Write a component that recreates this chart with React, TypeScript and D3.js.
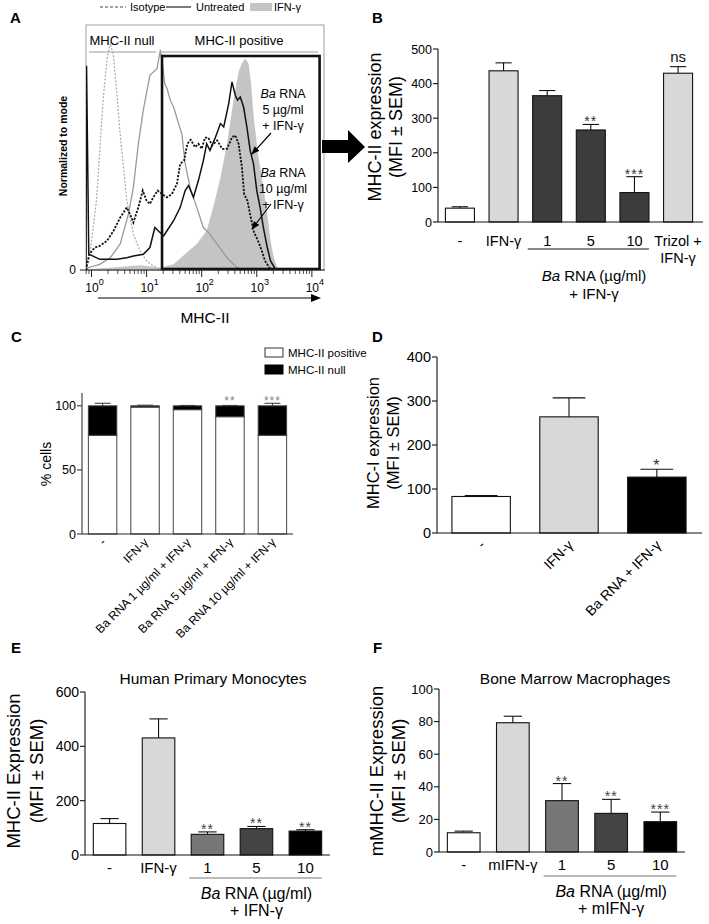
import * as d3 from 'd3';

const FONT = '"Liberation Sans", Arial, Helvetica, sans-serif';

// Panel A: flow histograms, x = log10(MHC-II), y = % of mode
const histIsotype: [number, number][] = [[-0.1, 0], [-0.03, 6.9], [0.09, 30.5], [0.15, 52.7], [0.21, 74.8], [0.28, 92.5], [0.34, 100], [0.4, 94], [0.46, 77.7], [0.52, 60], [0.58, 45.3], [0.64, 30.5], [0.7, 23.1], [0.76, 15.8], [0.88, 8.4], [1.0, 4], [1.12, 1.8], [1.25, 0.3], [1.4, 0]];
const histUntreated: [number, number][] = [[-0.1, 0], [-0.06, 1], [0.15, 2.5], [0.34, 5.4], [0.52, 11.4], [0.67, 24.6], [0.76, 36.4], [0.85, 55.6], [0.94, 70.4], [1.06, 85.8], [1.19, 88.8], [1.25, 97], [1.29, 90], [1.33, 82], [1.37, 80], [1.43, 74.8], [1.49, 71.8], [1.58, 64.5], [1.64, 60], [1.7, 46.8], [1.79, 36.4], [1.91, 27.6], [2.03, 18.7], [2.15, 15.8], [2.28, 11.4], [2.46, 5.4], [2.64, 1], [2.82, 0]];
const histBa5: [number, number][] = [[-0.1, 0], [-0.09, 90], [-0.05, 7], [0.15, 4.7], [0.46, 4.7], [0.64, 5.4], [0.76, 6.2], [0.94, 6.9], [1.06, 9.9], [1.15, 18.7], [1.21, 17.3], [1.31, 15], [1.37, 17.3], [1.49, 21.7], [1.61, 27.6], [1.7, 35], [1.76, 37.2], [1.85, 32], [1.94, 39.4], [2.03, 48.2], [2.09, 55.6], [2.15, 52.7], [2.25, 58.5], [2.34, 64.5], [2.4, 63], [2.49, 73.3], [2.55, 82.9], [2.61, 77], [2.65, 74.8], [2.7, 76.2], [2.76, 71.8], [2.82, 63], [2.88, 52.7], [2.94, 46.8], [3.0, 35], [3.06, 27.6], [3.12, 18.7], [3.19, 9.9], [3.25, 4], [3.34, 0.3], [3.43, 0]];
const histBa10: [number, number][] = [[-0.1, 0], [-0.04, 7], [0.06, 9.9], [0.15, 10.6], [0.28, 12.8], [0.4, 17.3], [0.52, 23.1], [0.64, 27.6], [0.7, 24.6], [0.76, 20.9], [0.85, 27.6], [0.93, 35], [1.0, 30.5], [1.06, 29.1], [1.12, 32], [1.2, 35], [1.28, 33.5], [1.37, 32], [1.46, 33.5], [1.55, 37.9], [1.61, 46.8], [1.68, 48.2], [1.74, 55.6], [1.8, 57.4], [1.88, 54.1], [1.94, 55.6], [2.0, 53.4], [2.06, 58.3], [2.12, 58.3], [2.19, 54.9], [2.28, 57.1], [2.37, 53.4], [2.46, 53.4], [2.55, 58.5], [2.61, 59.3], [2.67, 55.6], [2.73, 45.3], [2.77, 33.5], [2.83, 30.5], [2.89, 23.1], [2.95, 16.5], [3.01, 13.6], [3.08, 9.2], [3.15, 4], [3.25, 0.3], [3.31, 0]];
const histIfn: [number, number][] = [[-0.1, 0.3], [0.34, 1], [0.88, 2.1], [1.25, 1], [1.49, 2.5], [1.73, 7.7], [1.91, 11.4], [2.09, 17.3], [2.21, 27.6], [2.34, 40.8], [2.46, 55.6], [2.55, 70.4], [2.61, 79.2], [2.67, 87.3], [2.73, 91], [2.79, 93.2], [2.85, 91], [2.89, 83.6], [2.95, 65.9], [3.03, 49.7], [3.12, 36.4], [3.19, 24.6], [3.25, 12.8], [3.31, 5.4], [3.37, 1], [3.46, 0]];
const aDecades = [0, 1, 2, 3, 4];

// Panel B
const bCats = ['-', 'IFN-γ', '1', '5', '10', 'Trizol + IFN-γ'];
const bValues = [40, 437, 365, 266, 85, 430];
const bErrors = [4, 23, 15, 16, 46, 19];
const bStars = ['', '', '', '**', '***', 'ns'];
const bTicks = [0, 100, 200, 300, 400, 500];

// Panel C
const cCats = ['-', 'IFN-γ', 'Ba RNA 1 µg/ml + IFN-γ', 'Ba RNA 5 µg/ml + IFN-γ', 'Ba RNA 10 µg/ml + IFN-γ'];
const cPositive = [77, 99, 97, 91.5, 77];
const cNull = [23, 1, 3, 8.5, 23];
const cErrors = [2, 0.5, 0.3, 0.3, 2];
const cStars = ['', '', '', '**', '***'];
const cTicks = [0, 50, 100];

// Panel D
const dCats = ['-', 'IFN-γ', 'Ba RNA + IFN-γ'];
const dValues = [83, 264, 127];
const dErrors = [2, 43, 18];
const dStars = ['', '', '*'];
const dTicks = [0, 100, 200, 300, 400];

// Panel E
const eCats = ['-', 'IFN-γ', '1', '5', '10'];
const eValues = [116, 431, 76, 97, 88];
const eErrors = [18, 70, 9, 8, 5];
const eStars = ['', '', '**', '**', '**'];
const eTicks = [0, 200, 400, 600];

// Panel F
const fCats = ['-', 'mIFN-γ', '1', '5', '10'];
const fValues = [11.8, 79.3, 31.5, 23.7, 18.6];
const fErrors = [1, 4, 10.5, 8.6, 5.9];
const fStars = ['', '', '**', '**', '***'];
const fTicks = [0, 20, 40, 60, 80, 100];

type BarProps = {
  cats: string[]; values: number[]; errors: number[]; stars: string[]; fills: string[];
  left: number; right: number; axisEnd: number; bottom: number; top: number; max: number;
  ticks: number[]; tickFont: number; starFont: number; starColor: string;
  showLabels?: boolean; labelFont?: number; labelY?: number;
};

function Bars(p: BarProps) {
  const x = d3.scaleBand<string>().domain(p.cats).range([p.left, p.right]).paddingInner(0.335).paddingOuter(0.17);
  const y = d3.scaleLinear().domain([0, p.max]).range([p.bottom, p.top]);
  const bw = x.bandwidth();
  return (
    <g>
      {p.cats.map((c, i) => {
        const x0 = x(c)!;
        const cx = x0 + bw / 2;
        const yv = y(p.values[i]);
        const ye = y(p.values[i] + p.errors[i]);
        const cap = bw * 0.28;
        const s = p.stars[i];
        return (
          <g key={c}>
            <line x1={cx} x2={cx} y1={yv} y2={ye} stroke="#111" strokeWidth={1.1} />
            <line x1={cx - cap} x2={cx + cap} y1={ye} y2={ye} stroke="#111" strokeWidth={1.1} />
            <rect x={x0} y={yv} width={bw} height={p.bottom - yv} fill={p.fills[i]} stroke="#111" strokeWidth={1.1} />
            {s && (
              <text x={cx} y={s === 'ns' ? ye - 5 : ye + 2} textAnchor="middle" fontSize={s === 'ns' ? p.starFont + 1 : p.starFont}
                fill={s === 'ns' ? '#111' : p.starColor} letterSpacing={s === 'ns' ? 0 : 1}>{s}</text>
            )}
            {p.showLabels && (
              <text x={cx} y={p.labelY} textAnchor="middle" fontSize={p.labelFont}>{c}</text>
            )}
          </g>
        );
      })}
      <line x1={p.left} x2={p.axisEnd} y1={p.bottom} y2={p.bottom} stroke="#111" strokeWidth={1.1} />
      <line x1={p.left} x2={p.left} y1={p.bottom} y2={y(p.max)} stroke="#111" strokeWidth={1.1} />
      {p.ticks.map(t => (
        <g key={t}>
          <line x1={p.left - 5} x2={p.left} y1={y(t)} y2={y(t)} stroke="#111" strokeWidth={1.1} />
          <text x={p.left - 6} y={y(t)} dy="0.36em" textAnchor="end" fontSize={p.tickFont}>{t}</text>
        </g>
      ))}
    </g>
  );
}

function YLabel({ x, y, size, lines }: { x: number[]; y: number; size: number; lines: string[] }) {
  return (
    <g>
      {lines.map((l, i) => (
        <text key={i} transform={`translate(${x[i]},${y}) rotate(-90)`} dy="0.35em" textAnchor="middle" fontSize={size}>{l}</text>
      ))}
    </g>
  );
}

function PanelA() {
  const xA = d3.scaleLinear().domain([-0.1, 4.22]).range([86, 324]);
  const yA = d3.scaleLinear().domain([0, 100]).range([270, 43]);
  const line = d3.line<[number, number]>().x(d => xA(d[0])).y(d => yA(d[1]));
  const area = d3.area<[number, number]>().x(d => xA(d[0])).y0(yA(0)).y1(d => yA(d[1]));
  const minor: number[] = [];
  for (let d = -1; d <= 4; d++) for (let k = 2; k <= 9; k++) {
    const v = d + Math.log10(k);
    if (v > -0.1 && v < 4.22) minor.push(v);
  }
  return (
    <g>
      <defs>
        <clipPath id="clipA"><rect x={86} y={25} width={238} height={245} /></clipPath>
        <marker id="ah" viewBox="0 0 10 10" refX={9} refY={5} markerWidth={7} markerHeight={7} orient="auto">
          <path d="M0,1 L10,5 L0,9 z" fill="#000" />
        </marker>
      </defs>
      <text x={10} y={23} fontSize={15} fontWeight="bold">A</text>
      {/* legend */}
      <line x1={100} x2={126} y1={7} y2={7} stroke="#444" strokeDasharray="3,2" />
      <text x={130} y={10.5} fontSize={11}>Isotype</text>
      <line x1={166} x2={191} y1={7} y2={7} stroke="#222" strokeWidth={1.2} />
      <text x={196} y={10.5} fontSize={11}>Untreated</text>
      <rect x={250} y={3} width={22} height={8} fill="#c4c4c4" />
      <text x={274} y={10.5} fontSize={11}>IFN-γ</text>

      <rect x={86} y={25} width={238} height={245} fill="none" stroke="#888" strokeWidth={0.8} />
      <g clipPath="url(#clipA)">
        <path d={area(histIfn)!} fill="#c4c4c4" />
        <path d={line(histIsotype)!} fill="none" stroke="#a8a8a8" strokeWidth={1.2} strokeDasharray="2,1.6" />
        <path d={line(histUntreated)!} fill="none" stroke="#999" strokeWidth={1.3} />
        <path d={line(histBa10)!} fill="none" stroke="#111" strokeWidth={1.8} strokeDasharray="2.2,1.4" />
        <path d={line(histBa5)!} fill="none" stroke="#111" strokeWidth={1.5} />
      </g>
      <rect x={xA(1.28)} y={56} width={xA(4.14) - xA(1.28)} height={213} fill="none" stroke="#111" strokeWidth={2.6} />
      <line x1={89} x2={156} y1={52} y2={52} stroke="#999" strokeWidth={1.2} />
      <line x1={162} x2={318} y1={52} y2={52} stroke="#999" strokeWidth={1.2} />
      <text x={122} y={45} textAnchor="middle" fontSize={13}>MHC-II null</text>
      <text x={239} y={45} textAnchor="middle" fontSize={13}>MHC-II positive</text>

      <text fontSize={12.5} textAnchor="middle">
        <tspan x={283} y={98}><tspan fontStyle="italic">Ba</tspan> RNA</tspan>
        <tspan x={283} y={114}>5 µg/ml</tspan>
        <tspan x={283} y={130}>+ IFN-γ</tspan>
        <tspan x={283} y={177}><tspan fontStyle="italic">Ba</tspan> RNA</tspan>
        <tspan x={283} y={193}>10 µg/ml</tspan>
        <tspan x={283} y={209}>+ IFN-γ</tspan>
      </text>
      <line x1={271} y1={133} x2={252} y2={154} stroke="#000" strokeWidth={1.2} markerEnd="url(#ah)" />
      <line x1={271} y1={204} x2={252} y2={229} stroke="#000" strokeWidth={1.2} markerEnd="url(#ah)" />

      {/* axes */}
      <line x1={80} x2={325} y1={270} y2={270} stroke="#222" strokeWidth={1} />
      <text x={76} y={270} dy="0.3em" textAnchor="end" fontSize={12}>0</text>
      {aDecades.map(d => (
        <g key={d}>
          <line x1={xA(d)} x2={xA(d)} y1={270} y2={277} stroke="#222" />
          <text x={xA(d) + 3} y={292} textAnchor="middle" fontSize={12}>10<tspan dy={-7} fontSize={9}>{d}</tspan></text>
        </g>
      ))}
      {minor.map((v, i) => (
        <line key={i} x1={xA(v)} x2={xA(v)} y1={270} y2={274} stroke="#222" strokeWidth={0.8} />
      ))}
      <line x1={98} x2={312} y1={298} y2={298} stroke="#000" strokeWidth={1.2} />
      <path d="M311,294 L321,298 L311,302 z" fill="#000" />
      <text x={205} y={323} textAnchor="middle" fontSize={15.5}>MHC-II</text>
      <text transform="translate(63,146) rotate(-90)" dy="0.35em" textAnchor="middle" fontSize={10.5} fontWeight="bold">Normalized to mode</text>

      {/* link arrow A -> B */}
      <path d="M322,140 L348,140 L348,130 L365,147 L348,163 L348,153 L322,153 z" fill="#000" />
    </g>
  );
}

function PanelB() {
  const fills = ['#fff', '#d8d8d8', '#3c3c3c', '#3c3c3c', '#3c3c3c', '#d8d8d8'];
  const x = d3.scaleBand<string>().domain(bCats).range([438, 700]).paddingInner(0.335).paddingOuter(0.17);
  const cx = (c: string) => x(c)! + x.bandwidth() / 2;
  return (
    <g>
      <text x={372} y={23} fontSize={15} fontWeight="bold">B</text>
      <Bars cats={bCats} values={bValues} errors={bErrors} stars={bStars} fills={fills}
        left={438} right={700} axisEnd={703} bottom={222} top={49} max={500}
        ticks={bTicks} tickFont={12.5} starFont={14} starColor="#333" />
      {bCats.slice(0, 5).map(c => (
        <text key={c} x={cx(c)} y={246} textAnchor="middle" fontSize={14.5}>{c}</text>
      ))}
      <text x={cx(bCats[5])} y={246} textAnchor="middle" fontSize={14.5}>Trizol +</text>
      <text x={cx(bCats[5])} y={263} textAnchor="middle" fontSize={14.5}>IFN-γ</text>
      <line x1={x('1')! - 5} x2={x('10')! + x.bandwidth()} y1={249} y2={249} stroke="#111" />
      <text x={594} y={281} textAnchor="middle" fontSize={15}><tspan fontStyle="italic">Ba</tspan> RNA (µg/ml)</text>
      <text x={594} y={299} textAnchor="middle" fontSize={15}>+ IFN-γ</text>
      <YLabel x={[375, 396]} y={127} size={18} lines={['MHC-II expression', '(MFI ± SEM)']} />
    </g>
  );
}

function PanelC() {
  const x = d3.scaleBand<string>().domain(cCats).range([82, 293]).paddingInner(0.33).paddingOuter(0.15);
  const y = d3.scaleLinear().domain([0, 110]).range([534, 393]);
  const bw = x.bandwidth();
  return (
    <g>
      <text x={11} y={342} fontSize={15} fontWeight="bold">C</text>
      <rect x={265} y={348} width={18} height={9} fill="#fff" stroke="#333" />
      <text x={288} y={357} fontSize={11.5}>MHC-II positive</text>
      <rect x={265} y={365} width={18} height={9} fill="#000" stroke="#000" />
      <text x={288} y={374} fontSize={11.5}>MHC-II null</text>
      {cCats.map((c, i) => {
        const x0 = x(c)!;
        const cxp = x0 + bw / 2;
        const total = cPositive[i] + cNull[i];
        const ye = y(total + cErrors[i]);
        return (
          <g key={c}>
            <line x1={cxp} x2={cxp} y1={y(total)} y2={ye} stroke="#333" />
            <line x1={cxp - bw * 0.28} x2={cxp + bw * 0.28} y1={ye} y2={ye} stroke="#333" />
            <rect x={x0} y={y(cPositive[i])} width={bw} height={y(0) - y(cPositive[i])} fill="#fff" stroke="#444" />
            <rect x={x0} y={y(total)} width={bw} height={y(cPositive[i]) - y(total)} fill="#000" stroke="#444" />
            {cStars[i] && <text x={cxp} y={405} textAnchor="middle" fontSize={12} fill="#888" letterSpacing={1}>{cStars[i]}</text>}
            <text transform={`translate(${cxp + 4},543) rotate(-45)`} textAnchor="end" fontSize={12}>{c}</text>
          </g>
        );
      })}
      <line x1={82} x2={293} y1={534} y2={534} stroke="#222" />
      <line x1={82} x2={82} y1={534} y2={393} stroke="#222" />
      {cTicks.map(t => (
        <g key={t}>
          <line x1={77} x2={82} y1={y(t)} y2={y(t)} stroke="#222" />
          <text x={76} y={y(t)} dy="0.36em" textAnchor="end" fontSize={12.5}>{t}</text>
        </g>
      ))}
      <YLabel x={[46]} y={464} size={14} lines={['% cells']} />
    </g>
  );
}

function PanelD() {
  const fills = ['#fff', '#d8d8d8', '#000'];
  const x = d3.scaleBand<string>().domain(dCats).range([437, 701]).paddingInner(0.335).paddingOuter(0.17);
  return (
    <g>
      <text x={372} y={342} fontSize={15} fontWeight="bold">D</text>
      <Bars cats={dCats} values={dValues} errors={dErrors} stars={dStars} fills={fills}
        left={437} right={701} axisEnd={702} bottom={533} top={357} max={400}
        ticks={dTicks} tickFont={14.5} starFont={16} starColor="#333" />
      {dCats.map(c => (
        <text key={c} transform={`translate(${x(c)! + x.bandwidth() / 2 + 5},546) rotate(-45)`} textAnchor="end" fontSize={14}>{c}</text>
      ))}
      <YLabel x={[373, 393]} y={443} size={16.5} lines={['MHC-I expression', '(MFI ± SEM)']} />
    </g>
  );
}

function PanelEF(props: {
  letter: string; ox: number; title: string; titleX: number; cats: string[]; values: number[];
  errors: number[]; stars: string[]; ticks: number[]; max: number; left: number; right: number;
  bottom: number; top: number; labelY: number; lineY: number; yLabel: string[]; yLabelX: number[];
  treat: string; tickFont: number;
}) {
  const fills = ['#fff', '#d8d8d8', '#777', '#444', '#000'];
  const x = d3.scaleBand<string>().domain(props.cats).range([props.left, props.right]).paddingInner(0.335).paddingOuter(0.17);
  const groupMid = (x(props.cats[2])! + x(props.cats[4])! + x.bandwidth()) / 2;
  return (
    <g>
      <text x={props.ox + 11} y={653} fontSize={15} fontWeight="bold">{props.letter}</text>
      <text x={props.titleX} y={684} textAnchor="middle" fontSize={15.5}>{props.title}</text>
      <Bars cats={props.cats} values={props.values} errors={props.errors} stars={props.stars} fills={fills}
        left={props.left} right={props.right} axisEnd={props.right} bottom={props.bottom} top={props.top} max={props.max}
        ticks={props.ticks} tickFont={props.tickFont} starFont={14} starColor="#444"
        showLabels labelFont={15} labelY={props.labelY} />
      <line x1={x(props.cats[2])! - 2} x2={x(props.cats[4])! + x.bandwidth()} y1={props.lineY} y2={props.lineY} stroke="#777" strokeWidth={1.2} />
      <text x={groupMid} y={props.lineY + 21} textAnchor="middle" fontSize={16}><tspan fontStyle="italic">Ba</tspan> RNA (µg/ml)</text>
      <text x={groupMid} y={props.lineY + 38} textAnchor="middle" fontSize={16}>{props.treat}</text>
      <YLabel x={props.yLabelX} y={771} size={18.5} lines={props.yLabel} />
    </g>
  );
}

export default function App() {
  return (
    <svg width={709} height={924} viewBox="0 0 709 924" fontFamily={FONT}
      style={{ position: 'absolute', left: 0, top: 0, background: '#fff' }}>
      <rect width={709} height={924} fill="#fff" />
      <PanelA />
      <PanelB />
      <PanelC />
      <PanelD />
      <PanelEF letter="E" ox={0} title="Human Primary Monocytes" titleX={213} cats={eCats} values={eValues}
        errors={eErrors} stars={eStars} ticks={eTicks} max={600} left={85} right={330} bottom={855} top={692}
        labelY={873} lineY={878} yLabel={['MHC-II Expression', '(MFI ± SEM)']} yLabelX={[14, 37]} treat="+ IFN-γ" tickFont={14} />
      <PanelEF letter="F" ox={362} title="Bone Marrow Macrophages" titleX={575} cats={fCats} values={fValues}
        errors={fErrors} stars={fStars} ticks={fTicks} max={100} left={439} right={685} bottom={852} top={689}
        labelY={870} lineY={876} yLabel={['mMHC-II Expression', '(MFI ± SEM)']} yLabelX={[377, 399]} treat="+ mIFN-γ" tickFont={13} />
    </svg>
  );
}
